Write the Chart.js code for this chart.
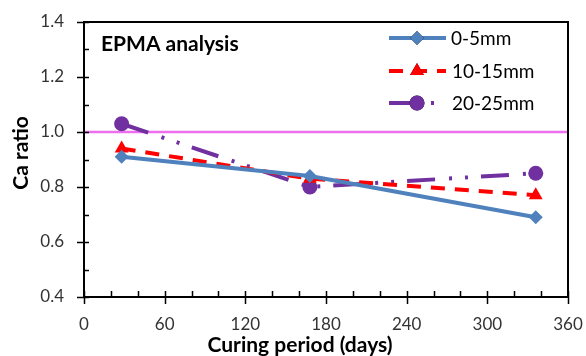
<!DOCTYPE html>
<html>
<head>
<meta charset="utf-8">
<script src="https://cdn.jsdelivr.net/npm/chart.js@4/dist/chart.umd.min.js"></script>
<style>
  html, body { margin: 0; padding: 0; background: #fff; }
  #wrap { width: 586px; height: 356px; position: relative; }
</style>
</head>
<body>
<div id="wrap"><canvas id="caChart"></canvas></div>
<script>
// curing time (days) and Ca ratio per depth band
const days = [28, 168, 336];
const band0to5 = [0.91, 0.84, 0.69];
const band10to15 = [0.94, 0.83, 0.77];
const band20to25 = [1.03, 0.80, 0.85];
const seriesNames = ['0-5mm', '10-15mm', '20-25mm'];
const refLevel = 1.0;

const FONT = 'Lato, "Open Sans", sans-serif';

function pts(ys) {
    return days.map((d, i) => ({ x: d, y: ys[i] }));
}

// frame, tick marks, axis titles, panel label and legend
const decorations = {
    id: 'decorations',
    afterDraw(chart) {
        const ctx = chart.ctx;
        const a = chart.chartArea;
        const xs = chart.scales.x, ys = chart.scales.y;
        ctx.save();
        ctx.strokeStyle = '#000';
        ctx.lineWidth = 2;
        ctx.strokeRect(a.left, a.top, a.right - a.left, a.bottom - a.top);

        ctx.lineWidth = 1.5;
        ctx.beginPath();
        for (let v = 0.4; v <= 1.401; v += 0.1) {
            const y = Math.round(ys.getPixelForValue(v)) + 0.5;
            const major = Math.round(v * 10) % 2 === 0;
            ctx.moveTo(major ? a.left - 7 : a.left, y);
            ctx.lineTo(a.left + 5, y);
        }
        for (let d = 0; d <= 360; d += 20) {
            const x = Math.round(xs.getPixelForValue(d)) + 0.5;
            const major = d % 60 === 0;
            ctx.moveTo(x, a.bottom - 6);
            ctx.lineTo(x, major ? a.bottom + 7 : a.bottom);
        }
        ctx.stroke();

        ctx.fillStyle = '#000';
        ctx.font = 'bold 21px ' + FONT;
        ctx.textAlign = 'center';
        ctx.textBaseline = 'middle';
        ctx.fillText('Curing period (days)', 300, 345);
        ctx.save();
        ctx.translate(21, 153);
        ctx.rotate(-Math.PI / 2);
        ctx.fillText('Ca ratio', 0, 0);
        ctx.restore();

        ctx.textAlign = 'left';
        ctx.font = 'bold 21px ' + FONT;
        ctx.fillText('EPMA analysis', 101, 44);

        // legend rows
        ctx.font = '19px ' + FONT;
        const rows = [38, 71, 103];
        chart.data.datasets.slice(0, 3).forEach((ds, i) => {
            const y = rows[i];
            ctx.save();
            ctx.strokeStyle = ds.borderColor;
            ctx.lineWidth = ds.borderWidth;
            ctx.setLineDash(ds.borderDash || []);
            ctx.beginPath();
            ctx.moveTo(389, y);
            ctx.lineTo(446, y);
            ctx.stroke();
            ctx.restore();
            Chart.helpers.drawPoint(ctx, {
                pointStyle: ds.pointStyle,
                radius: ds.pointRadius,
                rotation: 0,
                borderWidth: 0
            }, 417, y);
            ctx.fillStyle = ds.backgroundColor;
            ctx.fill();
            ctx.fillStyle = '#000';
            ctx.fillText(seriesNames[i], i === 0 ? 451 : 452, y + 1);
        });
        ctx.restore();
    }
};

new Chart(document.getElementById('caChart'), {
    type: 'scatter',
    data: {
        datasets: [
            {
                label: seriesNames[0], data: pts(band0to5), showLine: true,
                borderColor: '#4F81BD', backgroundColor: '#4F81BD', borderWidth: 4,
                pointStyle: 'rectRot', pointRadius: 7, pointBorderWidth: 0
            },
            {
                label: seriesNames[1], data: pts(band10to15), showLine: true,
                borderColor: '#FF0000', backgroundColor: '#FF0000', borderWidth: 4,
                borderDash: [14, 10],
                pointStyle: 'triangle', pointRadius: 8, pointBorderWidth: 0
            },
            {
                label: seriesNames[2], data: pts(band20to25), showLine: true,
                borderColor: '#7030A0', backgroundColor: '#7030A0', borderWidth: 4,
                borderDash: [28, 14, 3, 13, 3, 13],
                pointStyle: 'circle', pointRadius: 7.5, pointBorderWidth: 0
            },
            {
                label: 'ref', data: [{ x: 0, y: refLevel }, { x: 360, y: refLevel }], showLine: true,
                borderColor: '#EE6FEE', borderWidth: 2.5, pointRadius: 0
            }
        ]
    },
    options: {
        responsive: true,
        maintainAspectRatio: false,
        animation: false,
        layout: { padding: { top: 22, right: 18, left: 0, bottom: 0 } },
        plugins: { legend: { display: false }, tooltip: { enabled: false } },
        scales: {
            x: {
                type: 'linear', min: 0, max: 360,
                grid: { display: false, drawTicks: false },
                border: { display: false },
                ticks: { stepSize: 60, color: '#333', font: { family: FONT, size: 17 }, padding: 17, maxRotation: 0 },
                afterFit(s) { s.height = 59; s.paddingRight = 0; s.paddingLeft = 0; }
            },
            y: {
                min: 0.4, max: 1.4,
                grid: { display: false, drawTicks: false },
                border: { display: false },
                ticks: {
                    stepSize: 0.2, color: '#333', font: { family: FONT, size: 17 }, padding: 20,
                    callback: v => v.toFixed(1)
                },
                afterFit(s) { s.width = 84; s.paddingTop = 0; s.paddingBottom = 0; }
            }
        }
    },
    plugins: [decorations]
});
</script>
</body>
</html>
